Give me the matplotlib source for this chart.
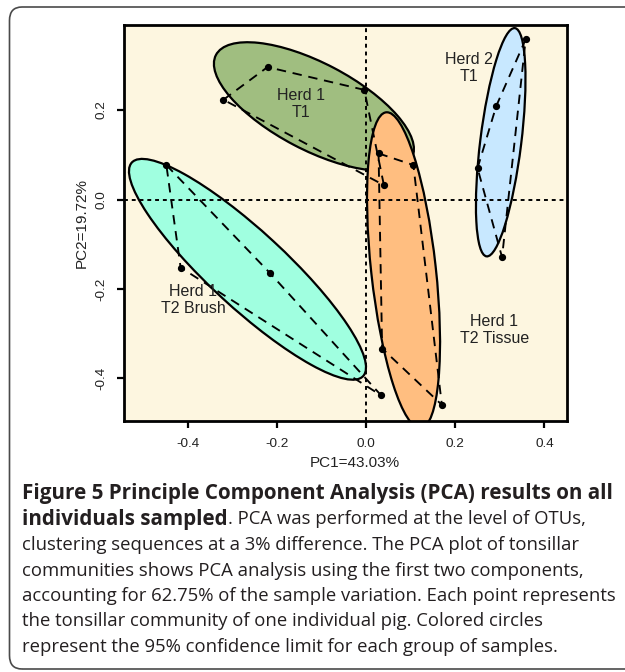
import numpy as np
import matplotlib
matplotlib.use("Agg")
import matplotlib.pyplot as plt
from matplotlib.patches import Ellipse, FancyBboxPatch

# ---------------- data ----------------
groups = ["Herd 1\nT1", "Herd 1\nT2 Brush", "Herd 1\nT2 Tissue", "Herd 2\nT1"]
colors = ["#A0BE80", "#A0FFE0", "#FFBE80", "#C8E8FF"]

# sample scores (PC1, PC2), listed in hull order
t1_h1_x = [-0.320, -0.221, -0.004, 0.040]
t1_h1_y = [0.223, 0.296, 0.245, 0.032]
brush_x = [-0.448, -0.216, 0.034, -0.416]
brush_y = [0.077, -0.164, -0.438, -0.152]
tissue_x = [0.028, 0.106, 0.170, 0.036]
tissue_y = [0.103, 0.077, -0.459, -0.333]
t1_h2_x = [0.250, 0.292, 0.358, 0.305]
t1_h2_y = [0.070, 0.209, 0.358, -0.129]

# 95% confidence ellipses: centre x, centre y, full width, full height, angle (deg)
ell_cx = [-0.117, -0.266, 0.084, 0.302]
ell_cy = [0.208, -0.156, -0.158, 0.128]
ell_w = [0.496, 0.705, 0.710, 0.514]
ell_h = [0.194, 0.171, 0.145, 0.092]
ell_ang = [152.4, 137.4, 96.3, 82.9]

# label positions
lab_x = [-0.147, -0.388, 0.288, 0.230]
lab_y = [0.213, -0.225, -0.292, 0.294]

xticks = [-0.4, -0.2, 0.0, 0.2, 0.4]
yticks = [-0.4, -0.2, 0.0, 0.2]
xlabel = "PC1=43.03%"
ylabel = "PC2=19.72%"

caption_bold1 = "Figure 5 Principle Component Analysis (PCA) results on all"
caption_bold2 = "individuals sampled"
caption_rest2 = ". PCA was performed at the level of OTUs,"
caption_lines = [
    "clustering sequences at a 3% difference. The PCA plot of tonsillar",
    "communities shows PCA analysis using the first two components,",
    "accounting for 62.75% of the sample variation. Each point represents",
    "the tonsillar community of one individual pig. Colored circles",
    "represent the 95% confidence limit for each group of samples.",
]

# ---------------- figure ----------------
W, H = 625, 672
fig = plt.figure(figsize=(W / 100, H / 100), dpi=100)
fig.patch.set_facecolor("white")

# rounded border
border = FancyBboxPatch((9.5 / W, 1 - 669 / H), (660 - 9.5) / W, (669 - 7) / H,
                        boxstyle="round,pad=0,rounding_size=0.02",
                        transform=fig.transFigure, facecolor="none",
                        edgecolor="#4a4a4a", lw=1.2, zorder=0)
fig.patches.append(border)

ax = fig.add_axes([124 / W, 1 - 421 / H, (566.7 - 124) / W, (421 - 25) / H])
ax.set_facecolor("#FDF6E0")
ax.set_xlim(-0.543, 0.450)
ax.set_ylim(-0.495, 0.390)

for cx, cy, w, h, a, c in zip(ell_cx, ell_cy, ell_w, ell_h, ell_ang, colors):
    ax.add_patch(Ellipse((cx, cy), w, h, angle=a, facecolor=c,
                         edgecolor="black", lw=1.6, zorder=2))

ax.axhline(0, color="black", lw=1.4, ls=(0, (2.0, 2.0)), zorder=3)
ax.axvline(0, color="black", lw=1.4, ls=(0, (2.0, 2.0)), zorder=3)

for xs, ys in [(t1_h1_x, t1_h1_y), (brush_x, brush_y),
               (tissue_x, tissue_y), (t1_h2_x, t1_h2_y)]:
    ax.plot(xs + xs[:1], ys + ys[:1], color="black", lw=1.35,
            ls=(0, (5.0, 3.6)), zorder=4)
    ax.plot(xs, ys, "o", color="black", ms=4.2, zorder=5)

for g, x, y in zip(groups, lab_x, lab_y):
    ax.text(x, y, g, ha="center", va="center", fontsize=11.5,
            family="Liberation Sans", color="#222222", linespacing=1.2, zorder=6)

ax.set_xticks(xticks)
ax.set_xticklabels(["%.1f" % v for v in xticks])
ax.set_yticks(yticks)
ax.set_yticklabels(["%.1f" % v for v in yticks], rotation=90, va="center")
for lab in ax.get_xticklabels() + ax.get_yticklabels():
    lab.set_family("Liberation Sans")
    lab.set_fontsize(9.7)
    lab.set_color("#222222")
ax.tick_params(axis="both", direction="out", length=5.2, width=1.6)
ax.tick_params(axis="x", pad=7)
ax.tick_params(axis="y", pad=7)
for s in ax.spines.values():
    s.set_linewidth(2.0)

fig.text(355 / W, 1 - 463 / H, xlabel, ha="center", va="center", fontsize=11,
         family="Liberation Sans", color="#222222")
fig.text(82 / W, 1 - 223 / H, ylabel, ha="center", va="center", fontsize=11,
         family="Liberation Sans", color="#222222", rotation=90)

# ---------------- caption ----------------
renderer = fig.canvas.get_renderer()
x0 = 22
ys = [494, 519.5, 545, 570.5, 596, 621.5, 647]

t = fig.text(x0 / W, 1 - ys[0] / H, caption_bold1, ha="left", va="center",
             family="Open Sans", weight="bold", fontsize=12, color="#231f20")
wb = t.get_window_extent(renderer).width
fs_b = 12 * (611 - x0) / wb
t.set_fontsize(fs_b)

probe = fig.text(0, 0, caption_lines[2], family="Open Sans", fontsize=12)
wr = probe.get_window_extent(renderer).width
probe.remove()
fs_r = 12 * (611 - x0) / wr

t2 = fig.text(x0 / W, 1 - ys[1] / H, caption_bold2, ha="left", va="center",
              family="Open Sans", weight="bold", fontsize=fs_b, color="#231f20")
w2 = t2.get_window_extent(renderer).width
fig.text((x0 + w2) / W, 1 - ys[1] / H, caption_rest2, ha="left", va="center",
         family="Open Sans", fontsize=fs_r, color="#231f20")
for line, y in zip(caption_lines, ys[2:]):
    fig.text(x0 / W, 1 - y / H, line, ha="left", va="center",
             family="Open Sans", fontsize=fs_r, color="#231f20")

fig.savefig("out.png", dpi=100)
